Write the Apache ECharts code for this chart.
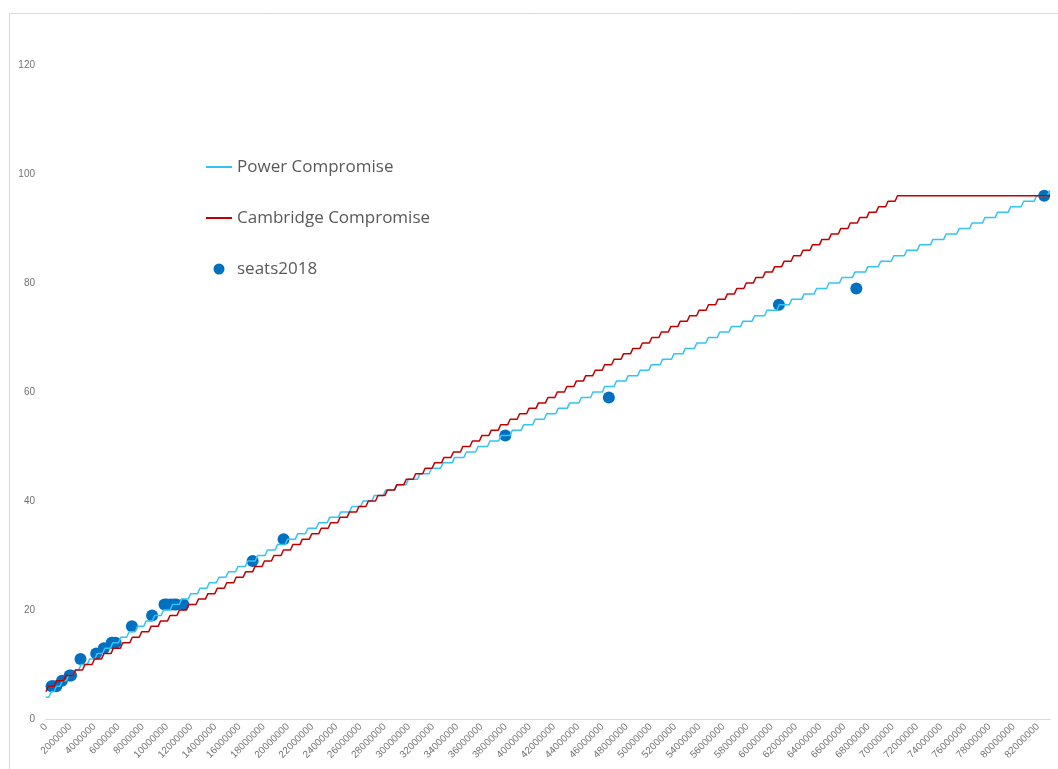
<!DOCTYPE html>
<html><head><meta charset="utf-8">
<script src="https://cdn.jsdelivr.net/npm/echarts@6/dist/echarts.min.js"></script>
<style>html,body{margin:0;padding:0;background:#fff}#c{width:1058px;height:769px}</style>
</head><body><div id="c"></div>
<script>
// Series names
const seriesNames = ['Power Compromise', 'Cambridge Compromise', 'seats2018'];

// seats2018 scatter: population (millions) and seats
const scatterPop = [0.46, 0.59, 0.85, 1.32, 1.95, 2.07, 2.85, 4.15, 4.78, 5.43, 5.50, 5.75, 7.10, 8.77, 9.80, 9.99, 10.31, 10.58, 10.77, 11.35, 17.08, 19.64, 37.97, 46.53, 60.59, 66.99, 82.52];
const scatterSeats = [6, 6, 6, 7, 8, 8, 11, 12, 13, 14, 14, 14, 17, 19, 21, 21, 21, 21, 21, 21, 29, 33, 52, 59, 76, 79, 96];

// Power Compromise step line: seats at population 0, then population (millions) at which each extra seat is reached
const powerStartSeats = 4;
const powerBreaks = [0.33, 0.76, 1.25, 1.77, 2.33, 2.80, 3.51, 4.13, 4.77, 5.42, 6.09, 6.77, 7.47, 8.18, 8.89, 9.62, 10.36, 11.11, 11.86, 12.63,
  13.40, 14.19, 14.97, 15.77, 16.58, 17.39, 18.21, 19.04, 19.87, 20.71, 21.55, 22.45, 23.35, 24.27, 25.19, 26.11, 27.04, 27.98, 28.92, 29.86,
  30.81, 31.77, 32.72, 33.68, 34.65, 35.62, 36.60, 37.52, 38.46, 39.39, 40.34, 41.29, 42.24, 43.19, 44.16, 45.12, 46.09, 47.06, 48.03, 49.01,
  49.94, 50.87, 51.81, 52.75, 53.70, 54.65, 55.60, 56.56, 57.52, 58.48, 59.50, 60.52, 61.55, 62.57, 63.60, 64.63, 65.70, 66.77, 67.84, 68.90,
  69.98, 71.06, 72.13, 73.22, 74.31, 75.39, 76.46, 77.52, 78.57, 79.65, 80.72, 81.79, 82.89];

// Cambridge Compromise step line
const cambridgeStartSeats = 5;
const cambridgeBreaks = [0.08, 0.78, 1.56, 2.34, 3.12, 3.91, 4.69, 5.47, 6.25, 7.03, 7.81, 8.59, 9.37, 10.15, 10.93, 11.72, 12.50, 13.28, 14.06, 14.84,
  15.62, 16.40, 17.18, 17.96, 18.74, 19.53, 20.31, 21.09, 21.87, 22.65, 23.43, 24.21, 24.99, 25.77, 26.55, 27.34, 28.12, 28.90, 29.68, 30.46,
  31.24, 32.02, 32.80, 33.58, 34.36, 35.15, 35.93, 36.71, 37.49, 38.27, 39.05, 39.83, 40.61, 41.39, 42.17, 42.96, 43.74, 44.52, 45.30, 46.08,
  46.86, 47.64, 48.42, 49.20, 49.98, 50.77, 51.55, 52.33, 53.11, 53.89, 54.67, 55.45, 56.23, 57.01, 57.79, 58.58, 59.36, 60.14, 60.92, 61.70,
  62.48, 63.26, 64.04, 64.82, 65.60, 66.39, 67.17, 67.95, 68.73, 69.51, 70.29];

const lineEndPop = 83.0;     // last sampled population (millions)
const riserHalf = 0.1;       // half of the sampling interval (millions)

function stepPoints(start, breaks) {
  const pts = [[0, start]];
  let s = start;
  for (const b of breaks) {
    pts.push([Math.max(0, b - riserHalf) * 1e6, s]);
    s++;
    pts.push([(b + riserHalf) * 1e6, s]);
  }
  pts.push([lineEndPop * 1e6, s]);
  return pts;
}

const scatterData = scatterPop.map((p, i) => [p * 1e6, scatterSeats[i]]);

const chart = echarts.init(document.getElementById('c'), null, {renderer: 'canvas'});
const labelColor = '#737373';
chart.setOption({
  animation: false,
  backgroundColor: '#ffffff',
  graphic: [{
    type: 'rect', silent: true, z: -10,
    shape: {x: 9.5, y: 13.5, width: 1200, height: 900},
    style: {fill: 'none', stroke: '#d9d9d9', lineWidth: 1}
  }],
  grid: {left: 46, right: 8, top: 65, bottom: 50, containLabel: false},
  legend: {
    orient: 'vertical', left: 200, top: 152,
    itemWidth: 26, itemHeight: 11, itemGap: 31,
    textStyle: {fontFamily: 'Open Sans', fontSize: 17, color: '#595959', lineHeight: 20},
    data: [
      {name: seriesNames[0], itemStyle: {opacity: 0}},
      {name: seriesNames[1], itemStyle: {opacity: 0}},
      {name: seriesNames[2], icon: 'circle'}
    ]
  },
  xAxis: {
    type: 'value', min: 0, max: 83000000, interval: 2000000,
    axisLine: {show: true, lineStyle: {color: '#d9d9d9', width: 1}},
    axisTick: {show: false},
    splitLine: {show: false},
    axisLabel: {
      rotate: 45, fontSize: 10, color: labelColor, margin: 6,
      fontFamily: 'Liberation Sans', showMaxLabel: false,
      formatter: v => String(v)
    }
  },
  yAxis: {
    type: 'value', min: 0, max: 120, interval: 20,
    axisLine: {show: false}, axisTick: {show: false}, splitLine: {show: false},
    axisLabel: {fontSize: 10, color: labelColor, margin: 11, fontFamily: 'Liberation Sans'}
  },
  series: [
    {
      name: seriesNames[0], type: 'line', data: stepPoints(powerStartSeats, powerBreaks),
      symbol: 'none', showSymbol: false, lineStyle: {color: '#33C3F5', width: 1.5}, itemStyle: {color: '#33C3F5'}
    },
    {
      name: seriesNames[1], type: 'line', data: stepPoints(cambridgeStartSeats, cambridgeBreaks),
      symbol: 'none', showSymbol: false, lineStyle: {color: '#C00000', width: 1.5}, itemStyle: {color: '#C00000'}
    },
    {
      name: seriesNames[2], type: 'scatter', data: scatterData,
      symbolSize: 12, itemStyle: {color: '#0070C0', opacity: 1}
    }
  ]
});
</script>
</body></html>
